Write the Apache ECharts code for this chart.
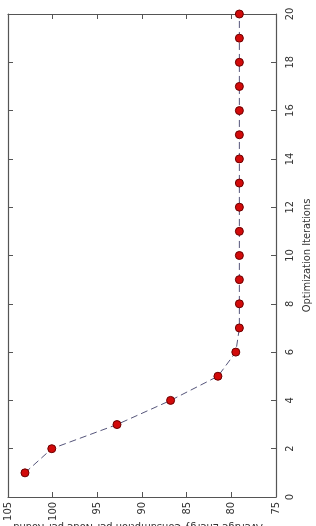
<!DOCTYPE html>
<html>
<head>
<meta charset="utf-8">
<script src="https://cdn.jsdelivr.net/npm/echarts@6/dist/echarts.min.js"></script>
<style>html,body{margin:0;padding:0;background:#fff;}#c{width:316px;height:526px;}</style>
</head>
<body>
<div id="c"></div>
<script>
const iterations = [1,2,3,4,5,6,7,8,9,10,11,12,13,14,15,16,17,18,19,20];
const values = [103.1,100.1,92.8,86.8,81.5,79.5,79.1,79.1,79.1,79.1,79.1,79.1,79.1,79.1,79.1,79.1,79.1,79.1,79.1,79.1];
const valueTicks = [75,80,85,90,95,100,105];
const iterTicks = [0,2,4,6,8,10,12,14,16,18,20];
const iterName = 'Optimization Iterations';
const valueName = 'Average Energy Consumption per Node per Round';

const font = '"DejaVu Sans Condensed","Liberation Sans Narrow","Liberation Sans",Arial,sans-serif';
const axisCol = '#555';
const chart = echarts.init(document.getElementById('c'), null, {renderer:'canvas'});
const baseLine = {show:true, onZero:false, lineStyle:{color:axisCol, width:1.2}};
const baseTick = {show:true, inside:true, length:5, lineStyle:{color:axisCol, width:1}};
chart.setOption({
  animation:false,
  backgroundColor:'#fff',
  grid:{left:8, right:40, top:14, bottom:29, containLabel:false, outerBoundsMode:'none'},
  graphic:[{
    type:'text', x:138, y:521, rotation:Math.PI, silent:true,
    style:{text:valueName, fill:'#333', font:'11px ' + font, textAlign:'center', textVerticalAlign:'bottom'}
  }],
  xAxis:[
    {type:'value', min:valueTicks[0], max:valueTicks[valueTicks.length-1], interval:5, inverse:true, position:'bottom',
     axisLine:baseLine, axisTick:baseTick, splitLine:{show:false},
     axisLabel:{rotate:90, margin:5, color:'#333', fontSize:11, fontFamily:font}},
    {type:'value', min:valueTicks[0], max:valueTicks[valueTicks.length-1], interval:5, inverse:true, position:'top',
     axisLine:baseLine, axisTick:baseTick, splitLine:{show:false}, axisLabel:{show:false}}
  ],
  yAxis:[
    {type:'value', min:iterTicks[0], max:iterTicks[iterTicks.length-1], interval:2, position:'right',
     axisLine:baseLine, axisTick:baseTick, splitLine:{show:false},
     axisLabel:{rotate:90, margin:9, color:'#333', fontSize:11, fontFamily:font},
     name:iterName, nameLocation:'middle', nameRotate:90, nameGap:26, nameMoveOverlap:false,
     nameTextStyle:{color:'#333', fontSize:11, fontFamily:font, verticalAlign:'top'}},
    {type:'value', min:iterTicks[0], max:iterTicks[iterTicks.length-1], interval:2, position:'left',
     axisLine:baseLine, axisTick:baseTick, splitLine:{show:false}, axisLabel:{show:false}}
  ],
  series:[{
    type:'line',
    data: iterations.map((it,i)=>[values[i], it]),
    xAxisIndex:0, yAxisIndex:0,
    symbol:'circle', symbolSize:8,
    itemStyle:{color:'#d20a0a', borderColor:'#6a0000', borderWidth:1},
    lineStyle:{color:'#55557a', width:1, type:[7,4]}
  }]
});
</script>
</body>
</html>
